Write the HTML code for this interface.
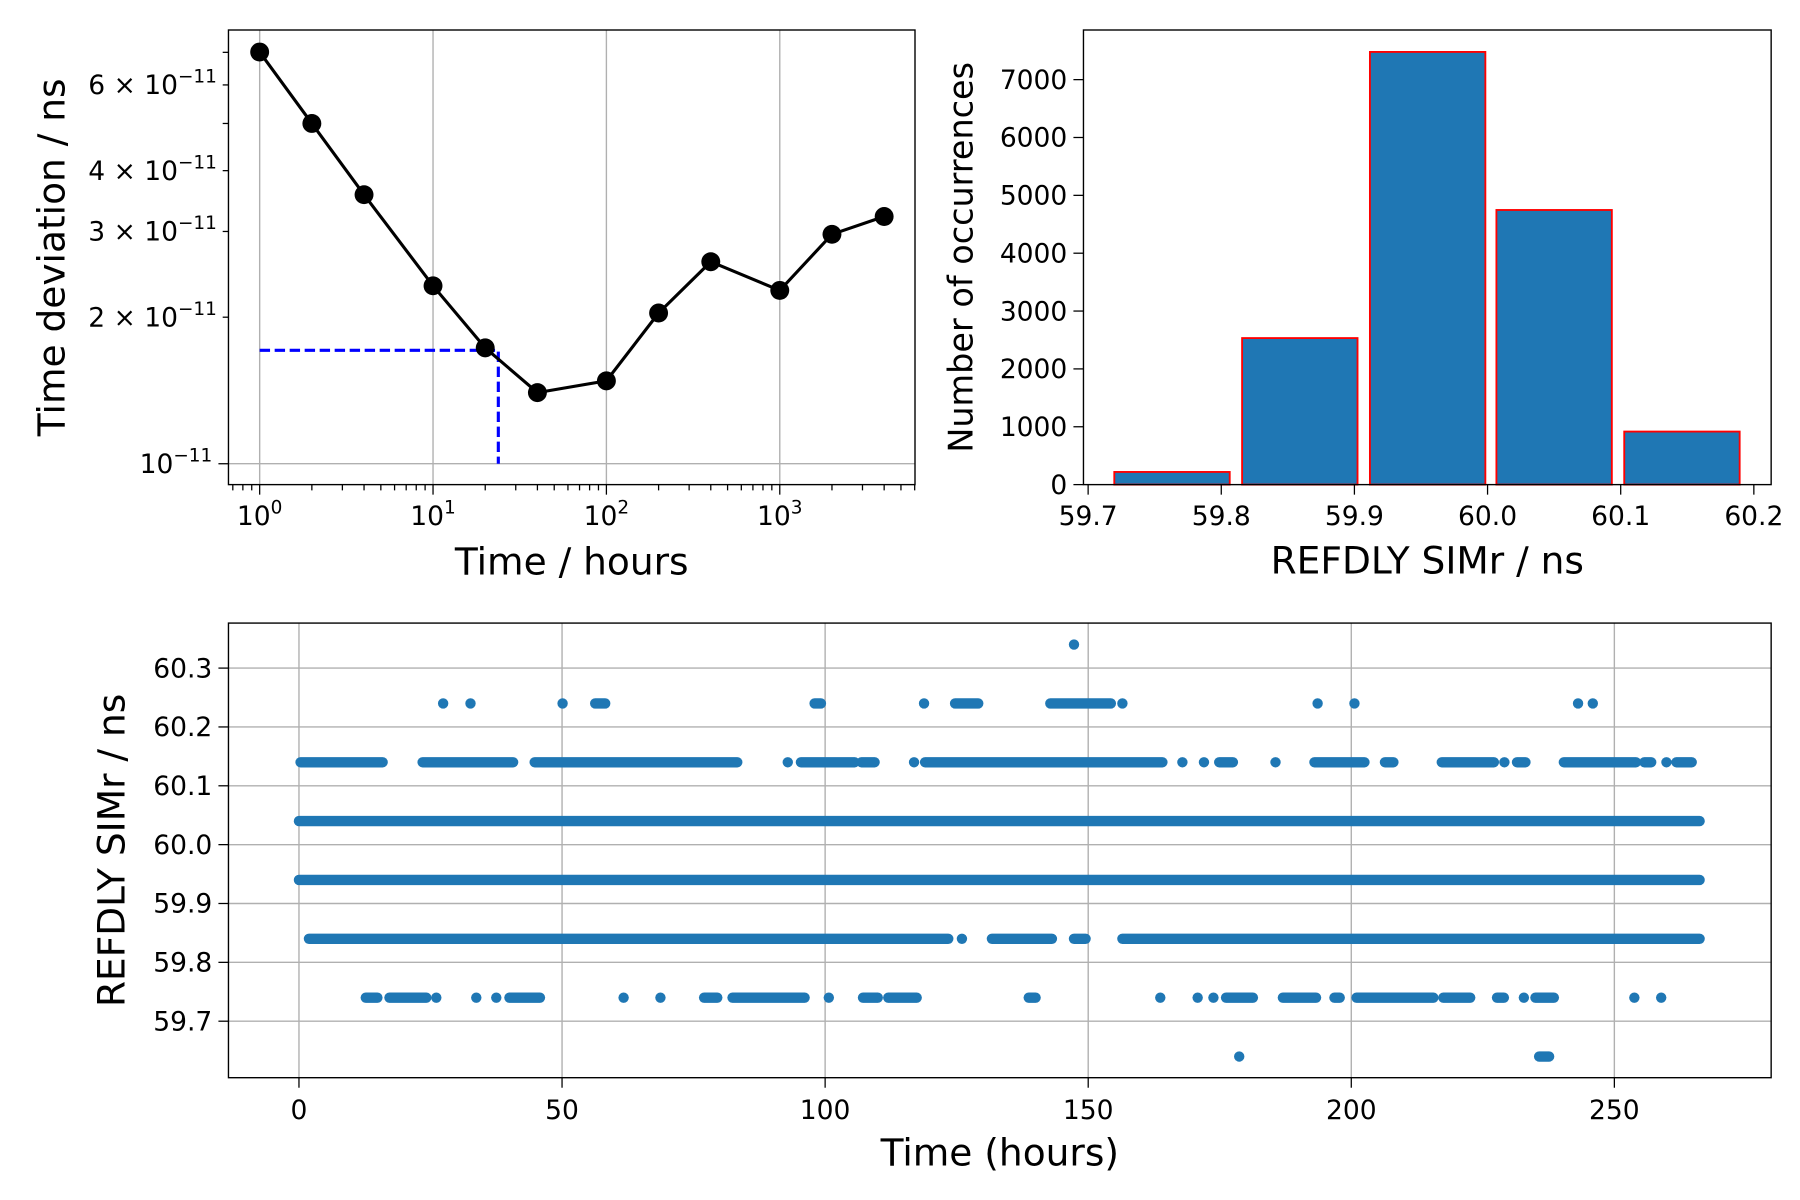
<!DOCTYPE html>
<html><head><meta charset="utf-8">
<style>
html,body{margin:0;padding:0;background:#fff;}
svg{display:block;font-family:"DejaVu Sans","Liberation Sans",sans-serif;}
</style></head>
<body>
<svg id="fig" width="1800" height="1200" viewBox="0 0 1560 1040" xmlns="http://www.w3.org/2000/svg">
<rect x="0" y="0" width="1560" height="1040" fill="#fff"/>
<g id="p1"></g>
<g id="p2"></g>
<g id="p3"></g>
</svg>
<script>
// ---------- Panel 1 data (Time deviation vs tau) ----------
const tauHours = [1, 2, 4, 10, 20, 40, 100, 200, 400, 1000, 2000, 4000];
const tdevValues = [7.01e-11, 5.00e-11, 3.57e-11, 2.32e-11, 1.73e-11, 1.40e-11, 1.48e-11, 2.04e-11, 2.60e-11, 2.27e-11, 2.96e-11, 3.22e-11];
const markerTau = [1, 23.8];
const markerTdev = [1.71e-11, 1e-11];
const p1XTicks = [0, 1, 2, 3];
const p1YMinorLabels = [2, 3, 4, 6];
const p1YMinorAll = [2, 3, 4, 5, 6, 7];

// ---------- Panel 2 data (histogram) ----------
const binCenters = [59.763, 59.859, 59.955, 60.050, 60.146];
const binCounts = [219, 2533, 7479, 4747, 917];
const binWidth = 0.0867;
const p2XTicks = ["59.7", "59.8", "59.9", "60.0", "60.1", "60.2"];
const p2YTicks = [0, 1000, 2000, 3000, 4000, 5000, 6000, 7000];

// ---------- Panel 3 data (time series: runs of samples per level) ----------
const levels = [60.34, 60.24, 60.14, 60.04, 59.94, 59.84, 59.74, 59.64];
const runs6034 = [[147.3,147.3]];
const runs6024 = [[27.4,27.4],[32.6,32.6],[50.1,50.1],[56.3,58.2],[98,99.2],[118.8,118.8],[124.7,129.1],[142.8,154.3],[156.5,156.5],[193.6,193.6],[200.6,200.6],[243.1,243.1],[245.9,245.9]];
const runs6014 = [[0.3,15.9],[23.5,40.7],[44.8,83.3],[92.9,92.9],[95.4,105.6],[106.9,109.4],[116.9,116.9],[119,164.1],[167.9,167.9],[172,172],[174.9,177.5],[185.6,185.6],[193,202.5],[206.4,208],[217.2,227.1],[229.1,229.1],[231.5,233.1],[240.4,254.1],[255.7,257],[259.9,259.9],[261.8,264.7]];
const runs6004 = [[0,266.2]];
const runs5994 = [[0,266.2]];
const runs5984 = [[1.9,123.4],[126,126],[131.7,143.1],[147.3,149.5],[156.5,266.2]];
const runs5974 = [[12.7,14.9],[17.2,24.2],[26.1,26.1],[33.7,33.7],[37.5,37.5],[40,45.8],[61.7,61.7],[68.7,68.7],[77,79.5],[82.4,96.1],[100.7,100.7],[107.2,110],[112,117.4],[138.7,140],[163.7,163.7],[170.8,170.8],[173.8,173.8],[176.2,181.3],[187,193.3],[196.8,197.8],[201,215.6],[217.5,222.6],[227.7,229],[232.8,232.8],[235,238.5],[253.8,253.8],[258.9,258.9]];
const runs5964 = [[178.7,178.7],[235.7,237.6]];
const p3XTicks = [0, 50, 100, 150, 200, 250];
const p3YTicks = ["59.7", "59.8", "59.9", "60.0", "60.1", "60.2", "60.3"];

const NS = "http://www.w3.org/2000/svg";
function mk(parent, tag, attrs, text) {
  const e = document.createElementNS(NS, tag);
  for (const k in attrs) e.setAttribute(k, attrs[k]);
  if (text !== undefined) e.textContent = text;
  parent.appendChild(e);
  return e;
}
const TICKF = 23, LABF = 32.5;

// ================= Panel 1 =================
(function(){
  const g = document.getElementById('p1');
  const L = 198, R = 793, T = 26, B = 420;
  const xmin = -0.18, xmax = 3.78;
  const ymin = Math.log10(0.906e-11), ymax = Math.log10(7.78e-11);
  const xs = v => L + (Math.log10(v) - xmin) / (xmax - xmin) * (R - L);
  const ys = v => B - (Math.log10(v) - ymin) / (ymax - ymin) * (B - T);
  p1XTicks.forEach(d => {
    const x = xs(Math.pow(10, d));
    const gl = mk(g, 'line', {x1:x, x2:x, y1:T, y2:B, stroke:'#b0b0b0', 'stroke-width':1.2});
    
    
  });
  const gy = mk(g, 'line', {x1:L, x2:R, y1:ys(1e-11), y2:ys(1e-11), stroke:'#b0b0b0', 'stroke-width':1.2});
  
  
  for (let d = -1; d <= 3; d++) {
    for (let m = 1; m <= 9; m++) {
      const v = m * Math.pow(10, d);
      const lv = Math.log10(v);
      if (lv < xmin || lv > xmax) continue;
      const x = xs(v);
      const major = m === 1;
      const t = mk(g, 'line', {x1:x, x2:x, y1:B, y2:B + (major ? 8.7 : 5), stroke:'#000', 'stroke-width':1.1});
      
      
    }
  }
  p1XTicks.forEach(d => {
    const x = xs(Math.pow(10, d));
    const tx = mk(g, 'text', {x:x, y:B + 35, 'font-size':TICKF, 'text-anchor':'middle'});
    
    
    mk(tx, 'tspan', {}, '10');
    mk(tx, 'tspan', {dy:-10, 'font-size':16}, String(d));
  });
  const t1 = mk(g, 'line', {x1:L - 8.7, x2:L, y1:ys(1e-11), y2:ys(1e-11), stroke:'#000', 'stroke-width':1.1});
  
  
  const yl0 = mk(g, 'text', {x:L - 14, y:ys(1e-11) + 8, 'font-size':TICKF, 'text-anchor':'end'});
  
  
  mk(yl0, 'tspan', {}, '10');
  mk(yl0, 'tspan', {dy:-10, 'font-size':16}, '−11');
  p1YMinorAll.forEach(m => {
    const y = ys(m * 1e-11);
    const t = mk(g, 'line', {x1:L - 5, x2:L, y1:y, y2:y, stroke:'#000', 'stroke-width':1.1});
    
    
  });
  p1YMinorLabels.forEach(m => {
    const y = ys(m * 1e-11);
    const tx = mk(g, 'text', {x:L - 10, y:y + 8, 'font-size':TICKF, 'text-anchor':'end'});
    
    
    mk(tx, 'tspan', {}, m + ' × 10');
    mk(tx, 'tspan', {dy:-10, 'font-size':16}, '−11');
  });
  const dpath = `M${xs(markerTau[0])},${ys(markerTdev[0])} L${xs(markerTau[1])},${ys(markerTdev[0])} L${xs(markerTau[1])},${ys(markerTdev[1])}`;
  const dl = mk(g, 'path', {d:dpath, fill:'none', stroke:'#0000ff', 'stroke-width':2.7, 'stroke-dasharray':'9,4'});
  
  
  const pts = tauHours.map((t, i) => xs(t) + ',' + ys(tdevValues[i])).join(' ');
  const pl = mk(g, 'polyline', {points:pts, fill:'none', stroke:'#000', 'stroke-width':2.7});
  
  
  tauHours.forEach((t, i) => {
    const c = mk(g, 'circle', {cx:xs(t), cy:ys(tdevValues[i]), r:8.2, fill:'#000'});
    
    
  });
  const fr = mk(g, 'rect', {x:L, y:T, width:R - L, height:B - T, fill:'none', stroke:'#000', 'stroke-width':1.2});
  
  
  const xl = mk(g, 'text', {x:(L + R) / 2, y:498, 'font-size':LABF, 'text-anchor':'middle'}, 'Time / hours');
  
  
  const yl = mk(g, 'text', {x:0, y:0, 'font-size':LABF, 'text-anchor':'middle', transform:`translate(56,${(T + B) / 2}) rotate(-90)`}, 'Time deviation / ns');
  
  
})();

// ================= Panel 2 =================
(function(){
  const g = document.getElementById('p2');
  const L = 939, R = 1535, T = 26, B = 420;
  const xmin = 59.6965, xmax = 60.213;
  const ymin = 0, ymax = 7858;
  const xs = v => L + (v - xmin) / (xmax - xmin) * (R - L);
  const ys = v => B - (v - ymin) / (ymax - ymin) * (B - T);
  binCenters.forEach((c, i) => {
    const x0 = xs(c - binWidth / 2), x1 = xs(c + binWidth / 2);
    const r = mk(g, 'rect', {x:x0, y:ys(binCounts[i]), width:x1 - x0, height:ys(0) - ys(binCounts[i]), fill:'#1f77b4', stroke:'#ff0000', 'stroke-width':1.6});
    
    
  });
  p2XTicks.forEach(s => {
    const x = xs(parseFloat(s));
    const t = mk(g, 'line', {x1:x, x2:x, y1:B, y2:B + 8.7, stroke:'#000', 'stroke-width':1.1});
    
    
    const tx = mk(g, 'text', {x:x, y:B + 35, 'font-size':TICKF, 'text-anchor':'middle'}, s);
    
    
  });
  p2YTicks.forEach(v => {
    const y = ys(v);
    const t = mk(g, 'line', {x1:L - 8.7, x2:L, y1:y, y2:y, stroke:'#000', 'stroke-width':1.1});
    
    
    const tx = mk(g, 'text', {x:L - 14, y:y + 8, 'font-size':TICKF, 'text-anchor':'end'}, String(v));
    
    
  });
  const fr = mk(g, 'rect', {x:L, y:T, width:R - L, height:B - T, fill:'none', stroke:'#000', 'stroke-width':1.2});
  
  
  const xl = mk(g, 'text', {x:(L + R) / 2, y:497, 'font-size':LABF, 'text-anchor':'middle'}, 'REFDLY SIMr / ns');
  
  
  const yl = mk(g, 'text', {x:0, y:0, 'font-size':29, 'text-anchor':'middle', transform:`translate(843,${(T + B) / 2}) rotate(-90)`}, 'Number of occurrences');
  
  
})();

// ================= Panel 3 =================
(function(){
  const g = document.getElementById('p3');
  const L = 198, R = 1535, T = 540, B = 934;
  const xmin = -13.4, xmax = 279.8;
  const ymin = 59.604, ymax = 60.3765;
  const xs = v => L + (v - xmin) / (xmax - xmin) * (R - L);
  const ys = v => B - (v - ymin) / (ymax - ymin) * (B - T);
  p3XTicks.forEach(v => {
    const x = xs(v);
    const gl = mk(g, 'line', {x1:x, x2:x, y1:T, y2:B, stroke:'#b0b0b0', 'stroke-width':1.2});
    
    
    const t = mk(g, 'line', {x1:x, x2:x, y1:B, y2:B + 8.7, stroke:'#000', 'stroke-width':1.1});
    
    
    const tx = mk(g, 'text', {x:x, y:B + 36, 'font-size':TICKF, 'text-anchor':'middle'}, String(v));
    
    
  });
  p3YTicks.forEach(s => {
    const y = ys(parseFloat(s));
    const gl = mk(g, 'line', {x1:L, x2:R, y1:y, y2:y, stroke:'#b0b0b0', 'stroke-width':1.2});
    
    
    const t = mk(g, 'line', {x1:L - 8.7, x2:L, y1:y, y2:y, stroke:'#000', 'stroke-width':1.1});
    
    
    const tx = mk(g, 'text', {x:L - 14, y:y + 8, 'font-size':TICKF, 'text-anchor':'end'}, s);
    
    
  });
  const allRuns = [runs6034, runs6024, runs6014, runs6004, runs5994, runs5984, runs5974, runs5964];
  levels.forEach((lv, i) => {
    allRuns[i].forEach(rn => {
      const y = ys(lv);
      const ln = mk(g, 'line', {x1:xs(rn[0]), x2:xs(rn[1]) + 0.01, y1:y, y2:y, stroke:'#1f77b4', 'stroke-width':9, 'stroke-linecap':'round'});
      
      
    });
  });
  const fr = mk(g, 'rect', {x:L, y:T, width:R - L, height:B - T, fill:'none', stroke:'#000', 'stroke-width':1.2});
  
  
  const xl = mk(g, 'text', {x:(L + R) / 2, y:1010, 'font-size':LABF, 'text-anchor':'middle'}, 'Time (hours)');
  
  
  const yl = mk(g, 'text', {x:0, y:0, 'font-size':LABF, 'text-anchor':'middle', transform:`translate(108,${(T + B) / 2}) rotate(-90)`}, 'REFDLY SIMr / ns');
  
  
})();
</script>
</body></html>
